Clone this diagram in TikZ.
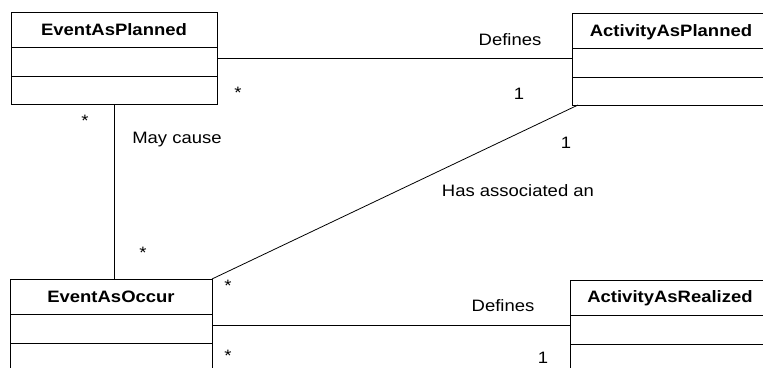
\documentclass[tikz,border=0pt]{standalone}
\usepackage{fontspec}
\setmainfont{Liberation Sans}[FakeStretch=1.12]
\usetikzlibrary{calc}
\newcommand{\umlsize}{\fontsize{16.5}{20}\selectfont}
\tikzset{
  cls/.style={draw, anchor=north west, inner sep=0pt, outer sep=0pt, minimum height=92pt},
  clsname/.style={anchor=base, inner sep=0pt, font=\umlsize\bfseries},
  lbl/.style={anchor=base, inner sep=0pt, font=\umlsize},
}
\begin{document}
\begin{tikzpicture}[x=1pt, y=-1pt, line width=0.8pt]
    \clip (0,0) rectangle (763,367);
    % classes
    \node[cls, minimum width=206pt] (evplan) at (11,12) {};
    \node[cls, minimum width=198pt] (actplan) at (572,13) {};
    \node[cls, minimum width=202pt] (evocc) at (10,279) {};
    \node[cls, minimum width=200pt] (actreal) at (570,280) {};
    \node[clsname] (evplanT) at ($(evplan.north)+(0,23)$) {EventAsPlanned};
    \node[clsname] (actplanT) at ($(actplan.north)+(0,23)$) {ActivityAsPlanned};
    \node[clsname] (evoccT) at ($(evocc.north)+(0,23)$) {EventAsOccur};
    \node[clsname] (actrealT) at ($(actreal.north)+(0,22)$) {ActivityAsRealized};
    \foreach \b in {evplan,actplan,evocc,actreal}
        \draw ($(\b.north west)+(0,35)$) -- ($(\b.north east)+(0,35)$)
              ($(\b.north west)+(0,64)$) -- ($(\b.north east)+(0,64)$);
    % associations
    \draw (evplan.east) -- (evplan.east -| actplan.west);
    \draw (evplan.south) -- (evplan.south |- evocc.north);
    \draw (evocc.north east) -- ([xshift=6pt]actplan.south west);
    \draw (evocc.east) -- (evocc.east -| actreal.west);
    % labels and multiplicities
    \node[lbl] (defplan) at (510,45) {Defines};
    \node[lbl] (m1) at (238,98.5) {*};
    \node[lbl] (m2) at (519,99) {1};
    \node[lbl] (m3) at (85,126.5) {*};
    \node[lbl] (maycause) at (177,143) {May cause};
    \node[lbl] (m4) at (143,258.5) {*};
    \node[lbl] (m5) at (566,148) {1};
    \node[lbl] (hasassoc) at (518,196) {Has associated an};
    \node[lbl] (m6) at (228,291.5) {*};
    \node[lbl] (defreal) at (503,311) {Defines};
    \node[lbl] (m7) at (228,361.5) {*};
    \node[lbl] (m8) at (543,363) {1};
\end{tikzpicture}
\end{document}
